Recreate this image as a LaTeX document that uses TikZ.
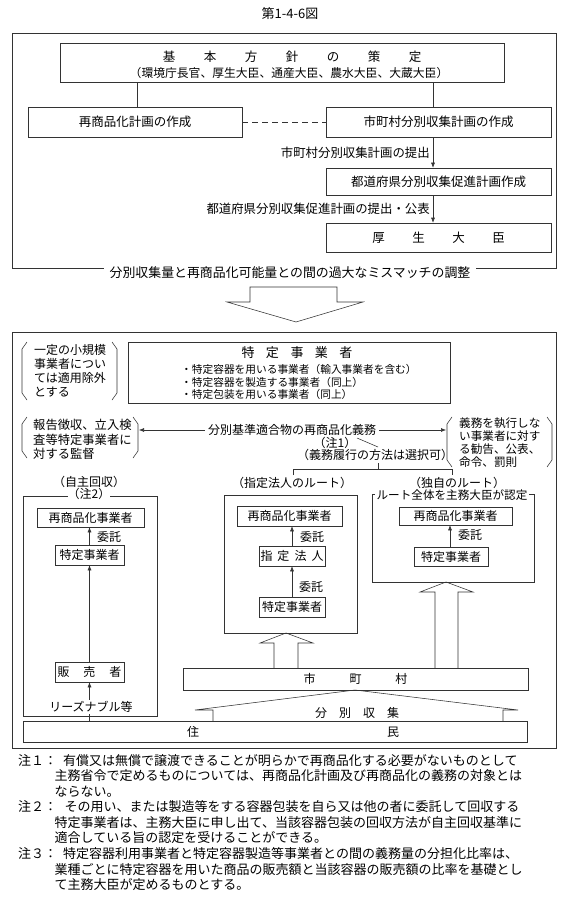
\documentclass[tikz,border=0pt]{standalone}
\usepackage{fontspec}
\setmainfont{Noto Sans CJK JP}
\usetikzlibrary{arrows.meta}
\newcommand\fsz[2]{\fontsize{#1pt}{#2pt}\selectfont}
\begin{document}
\begin{tikzpicture}[x=1pt,y=-1pt,
  ln/.style={line width=0.55pt, draw=black!80},
  bx/.style={draw=black!80, line width=0.55pt, inner sep=0pt, anchor=center},
  arr/.style={ln, -{Latex[length=5pt,width=4pt]}},
  font=\fsz{12}{14}, inner sep=0pt]
\useasboundingbox (0,0) rectangle (575,912);
\fill[white] (0,0) rectangle (575,912);

% title
\node[font=\fsz{13}{15}] (title) at (290,14) {第1-4-6図};

% ---------- upper part ----------
\node[bx, minimum width=544pt, minimum height=235pt] (topframe) at (284,150.5) {};
\node[bx, minimum width=444pt, minimum height=39pt] (kb) at (282,62.5) {};
\node[font=\fsz{12.5}{15}] (kbt1) at (292,57) {基\hspace{28.5pt}本\hspace{28.5pt}方\hspace{28.5pt}針\hspace{28.5pt}の\hspace{28.5pt}策\hspace{28.5pt}定};
\node[font=\fsz{11.8}{14}] (kbt2) at (289,73) {（環境庁長官、厚生大臣、通産大臣、農水大臣、大蔵大臣）};

\node[bx, minimum width=214pt, minimum height=30pt, font=\fsz{12.5}{15}] (rp) at (135,122) {再商品化計画の作成};
\node[bx, minimum width=225pt, minimum height=30pt, font=\fsz{12.5}{15}] (mc) at (438.5,122) {市町村分別収集計画の作成};
\draw[ln] ([xshift=2pt]rp.north) -- ([xshift=2pt]rp.north |- kb.south);
\draw[ln] ([xshift=-5.5pt]mc.north) -- ([xshift=-5.5pt]mc.north |- kb.south);
\draw[ln, dash pattern=on 6pt off 4pt] (rp.east) -- (mc.west);

\node[bx, minimum width=225pt, minimum height=27pt, font=\fsz{12.5}{15}] (tp) at (438.5,181.5) {都道府県分別収集促進計画作成};
\node[bx, minimum width=225pt, minimum height=29pt, font=\fsz{12.5}{15}] (kj) at (438.5,237.5) {厚\hspace{27.5pt}生\hspace{27.5pt}大\hspace{27.5pt}臣\hspace{9pt}};

\draw[arr] ([xshift=-5.5pt]mc.south) -- ([xshift=-5.5pt]tp.north)
  node[midway, left=3pt, font=\fsz{12.4}{15}] (lb1) {市町村分別収集計画の提出};
\draw[arr] ([xshift=-5.5pt]tp.south) -- ([xshift=-5.5pt]kj.north)
  node[midway, left=3pt, font=\fsz{12.4}{15}] (lb2) {都道府県分別収集促進計画の提出・公表};

\node[fill=white, inner xsep=6pt, inner ysep=2pt, font=\fsz{12.9}{15}] (mis) at (290,273) {分別収集量と再商品化可能量との間の過大なミスマッチの調整};

% big down arrow
\draw[ln] (250,287) -- (337,287) -- (337,302) -- (363,302) -- (296,322) -- (227,302) -- (250,302) -- cycle;

% ---------- lower part ----------
\node[bx, minimum width=544pt, minimum height=416pt] (botframe) at (284,540) {};

% bracket A
\draw[ln] (27,342) -- (22,349) -- (22,393) -- (27,400);
\draw[ln] (112,342) -- (117,349) -- (117,393) -- (112,400);
\node[align=left, anchor=west, font=\fsz{12}{14}] (brA) at (34,371) {一定の小規模\\事業者につい\\ては適用除外\\とする};

% tokutei jigyousha box
\node[bx, minimum width=322pt, minimum height=61pt] (tj) at (289,372.5) {};
\node[font=\fsz{13}{15}] (tjt) at (297,353) {特\hspace{11.5pt}定\hspace{11.5pt}事\hspace{11.5pt}業\hspace{11.5pt}者};
\node[align=left, anchor=west, font=\fsz{10.7}{12.2}] (tjb) at (181,382) {・特定容器を用いる事業者（輸入事業者を含む）\\・特定容器を製造する事業者（同上）\\・特定包装を用いる事業者（同上）};

% bracket B
\draw[ln] (27,417) -- (22,424) -- (22,451) -- (27,458);
\draw[ln] (133,417) -- (138,424) -- (138,451) -- (133,458);
\node[align=left, anchor=west, font=\fsz{12.3}{14.5}] (brB) at (33,439.5) {報告徴収、立入検\\査等特定事業者に\\対する監督};

% bracket C
\draw[ln] (452,417) -- (447,424) -- (447,460) -- (452,467);
\draw[ln] (547,417) -- (552,424) -- (552,460) -- (547,467);
\node[align=left, anchor=west, font=\fsz{11.6}{12.8}] (brC) at (459,442.5) {義務を執行しな\\い事業者に対す\\る勧告、公表、\\命令、罰則};

% duty
\node[inner xsep=3pt] (duty) at (292,430) {分別基準適合物の再商品化義務};
\coordinate (bBtip) at (139,430);
\coordinate (bCtip) at (446,430);
\draw[arr] (duty.west) -- (bBtip);
\draw[arr] (duty.east) -- (bCtip);
\node (n1) at (335,443) {（注1）};
\node (opt) at (375,455) {（義務履行の方法は選択可）};
\coordinate (pa) at (357,438);
\coordinate (pb) at (378,447);
\draw[ln] (pa) -- (pb);
\coordinate (brl) at (293,475);
\coordinate (brr) at (452,475);
\coordinate (brm) at (378,463);
\draw[ln] (brl) -- ++(0,-6) -- (brr |- 0,469) -- (brr);
\draw[ln] (brm) -- (brm |- 0,469);

% route labels
\node (sjl) at (89,482) {（自主回収）};
\node (sdl) at (292,483) {（指定法人のルート）};
\node (dkl) at (457,483) {（独自のルート）};

% frames
\node[bx, minimum width=134pt, minimum height=220pt] (fjs) at (90,606) {};
\node[bx, minimum width=133pt, minimum height=138pt] (fsd) at (290.5,564) {};
\node[bx, minimum width=162pt, minimum height=88pt] (fdk) at (453,538) {};
\node[fill=white] (n2) at (89,494) {（注2）};
\node[fill=white, inner xsep=1.5pt, font=\fsz{11.6}{13}] (dkc) at (452,495) {ルート全体を主務大臣が認定};

% jishu kaishu
\node[bx, minimum width=107pt, minimum height=19pt] (js1) at (90.5,517.5) {再商品化事業者};
\node[bx, minimum width=69pt, minimum height=20pt] (js2) at (89.5,555) {特定事業者};
\node[bx, minimum width=69pt, minimum height=20pt] (js3) at (89.5,672) {販\hspace{14pt}売\hspace{14pt}者};
\draw[arr] (js2.north) -- (js2.north |- js1.south);
\node (jsi) at (109,537) {委託};
\draw[arr] (js3.north) -- (js2.south);

% shitei houjin
\node[bx, minimum width=105pt, minimum height=20pt] (sd1) at (289.5,516) {再商品化事業者};
\node[bx, minimum width=66pt, minimum height=20pt] (sd2) at (292,556) {指\hspace{5pt}定\hspace{5pt}法\hspace{5pt}人};
\node[bx, minimum width=66pt, minimum height=20pt] (sd3) at (292,607) {特定事業者};
\draw[arr] (sd2.north) -- (sd2.north |- sd1.south);
\draw[arr] (sd3.north) -- (sd2.south);
\node (sdi1) at (312,537) {委託};
\node (sdi2) at (311,587) {委託};

% dokuji
\node[bx, minimum width=113pt, minimum height=18pt] (dk1) at (455.5,516) {再商品化事業者};
\node[bx, minimum width=74pt, minimum height=19pt] (dk2) at (451,556.5) {特定事業者};
\draw[arr] ([xshift=-1pt]dk2.north) -- ([xshift=-1pt]dk2.north |- dk1.south);
\node (dki) at (470,535) {委託};

% shichouson, juumin
\node[bx, minimum width=345pt, minimum height=22pt] (smc) at (355.5,679) {市\hspace{34pt}町\hspace{34pt}村};
\node[bx, minimum width=504pt, minimum height=21pt] (jm) at (275,731.5) {};
\node (jmt) at (293,732) {住\hspace{188pt}民};

\draw[arr] (js3.south |- jm.north) -- (js3.south);
\node[fill=white, inner sep=1pt] (rzl) at (91,707) {リーズナブル等};

% hollow arrows
\draw[ln] (274,668) -- (274,643) -- (260,643) -- (286,633) -- (313,643) -- (298,643) -- (298,668);
\draw[ln] (435,668) -- (435,592) -- (420,592) -- (446,582) -- (473,592) -- (458,592) -- (458,668);
\draw[ln] (213,721) -- (213,710) -- (195,710) -- (355,690) -- (518,710) -- (503,710) -- (503,721);
\node (bsk) at (357,713) {分\hspace{12pt}別\hspace{12pt}収\hspace{12pt}集};

% ---------- notes ----------
\begin{scope}[font=\fsz{13}{15.6}]
\node[anchor=west] (c1) at (18,760) {注１：};
\node[anchor=west, align=left] (t1) at (54.5,775.6) {\hspace*{8.5pt}有償又は無償で譲渡できることが明らかで再商品化する必要がないものとして\\主務省令で定めるものについては、再商品化計画及び再商品化の義務の対象とは\\ならない。};
\node[anchor=west] (c2) at (18,806.8) {注２：};
\node[anchor=west, align=left] (t2) at (54.5,822.4) {\hspace*{10pt}その用い、または製造等をする容器包装を自ら又は他の者に委託して回収する\\特定事業者は、主務大臣に申し出て、当該容器包装の回収方法が自主回収基準に\\適合している旨の認定を受けることができる。};
\node[anchor=west] (c3) at (18,853.6) {注３：};
\node[anchor=west, align=left] (t3) at (54.5,869.2) {\hspace*{8.5pt}特定容器利用事業者と特定容器製造等事業者との間の義務量の分担化比率は、\\業種ごとに特定容器を用いた商品の販売額と当該容器の販売額の比率を基礎とし\\て主務大臣が定めるものとする。};
\end{scope}
\end{tikzpicture}
\end{document}
